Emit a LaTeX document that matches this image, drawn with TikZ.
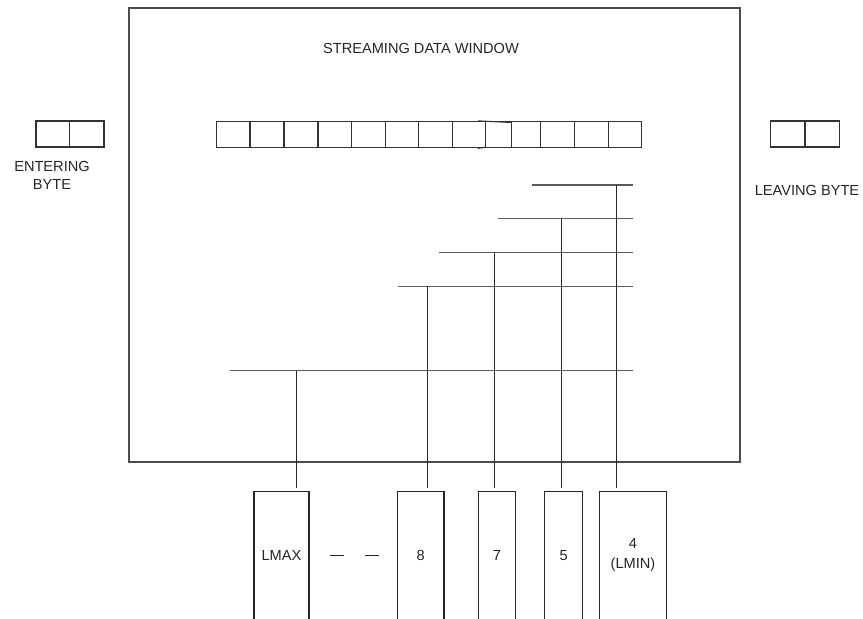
\documentclass[tikz,border=0pt]{standalone}
\usepackage{fontspec}
\setmainfont{Liberation Sans}
\begin{document}
\begin{tikzpicture}[x=1pt,y=-1pt,
  lbl/.style={font=\fontsize{14.6}{18}\selectfont, text=black!85, inner sep=0pt, align=center},
  frameline/.style={draw=black!70, line width=2pt},
  wire/.style={draw=black!85, line width=1.5pt},
  bus/.style={draw=black!65, line width=1.9pt},
  cell/.style={draw=black!80, line width=1.5pt, inner sep=0pt, outer sep=0pt, minimum height=26pt},
  lenbox/.style={draw=none, inner sep=0pt, outer sep=0pt, minimum height=127.3pt,
    font=\fontsize{14.6}{20}\selectfont, text=black!85, align=center}]
\useasboundingbox (0,0) rectangle (863,619);

% window frame
\node[frameline, inner sep=0pt, outer sep=0pt, minimum width=611pt, minimum height=454pt,
  anchor=north west] (win) at (129,8) {};
\node[lbl] (title) at (421,48.7) {STREAMING DATA WINDOW};

% byte row inside the window
\foreach \a/\b [count=\i] in {216.7/250,250/284,284/318,318/351.7,351.7/385.3,385.3/418.7,
  418.7/452.3,452.3/485.7,485.7/511.7,511.7/540.7,540.7/574.3,574.3/608.3,608.3/641.7}
  \node[cell, minimum width={(\b-\a)*1pt}] (c\i) at ({(\a+\b)/2},134.7) {};
\draw[black!80, line width=1.1pt] (478.3,122.2) -- (478.3,120.9) -- ([yshift=-0.8pt]c9.north east);
\draw[black!80, line width=1.1pt] (478.3,147) -- (478.3,148.3) -- ([yshift=0.6pt]c9.south west);

% entering and leaving bytes
\node[cell, minimum width=33.3pt] (e1) at (52.65,134.2) {};
\node[cell, minimum width=34.7pt] (e2) at (86.65,134.2) {};
\node[lbl] (etext) at (52,175.5) {ENTERING\\BYTE};
\node[cell, minimum width=34.3pt] (l1) at (787.85,134.2) {};
\node[cell, minimum width=34.3pt] (l2) at (822.15,134.2) {};
\node[lbl] (ltext) at (807,190) {LEAVING BYTE};

% buses of the windows of each length
\coordinate (h4s) at (532,185);   \coordinate (h4e) at (633,185);
\coordinate (h5s) at (498,218.5); \coordinate (h5e) at (633,218.5);
\coordinate (h7s) at (439,252.5); \coordinate (h7e) at (633,252.5);
\coordinate (h8s) at (397.5,286.5); \coordinate (h8e) at (633,286.5);
\coordinate (hLs) at (230,370.5); \coordinate (hLe) at (633,370.5);
\foreach \k in {4,5,7,8,L}
  \draw[bus] (h\k s) -- (h\k e);

% length boxes below the window
\node[lenbox, minimum width=55pt]   (bL) at (281.5,555.35) {LMAX};
\node[lenbox, minimum width=46.7pt] (b8) at (420.65,555.35) {8};
\node[lenbox, minimum width=36.6pt] (b7) at (497,555.35) {7};
\node[lenbox, minimum width=38pt]   (b5) at (563.7,555.35) {5};
\node[lenbox, minimum width=67.4pt] (b4) at (633,555.35) {4\\(LMIN)};
\foreach \b in {bL,b8,b7,b5,b4}
  \draw[wire] (\b.south west) -- (\b.north west) -- (\b.north east) -- (\b.south east);

% taps from each bus down to its box
\coordinate (tL) at (296.5,370.5);
\coordinate (t8) at (427.5,286.5);
\coordinate (t7) at (494.5,252.5);
\coordinate (t5) at (561.7,218.5);
\coordinate (t4) at (616.7,185);
\foreach \k in {L,8,7,5,4}
  \draw[wire, shorten >=4pt] (t\k) -- (t\k |- b\k.north);

% ellipsis between LMAX and 8
\draw[wire, shorten <=21pt, shorten >=16.6pt, dash pattern=on 14pt off 21pt]
  (bL.east) -- (b8.west);
\end{tikzpicture}
\end{document}
